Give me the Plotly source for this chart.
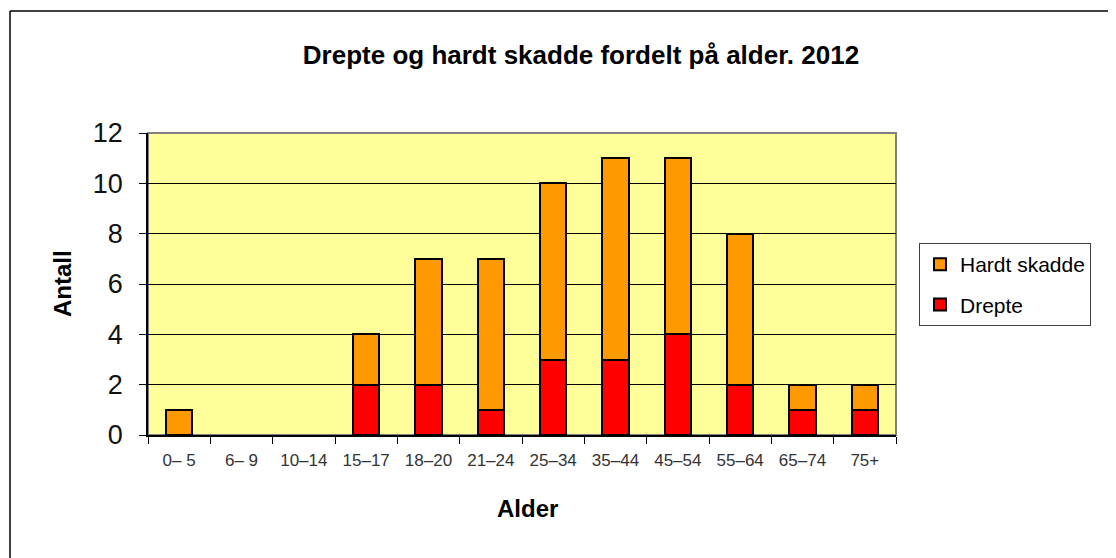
import plotly.graph_objects as go

categories = ["0– 5", "6– 9", "10–14", "15–17", "18–20", "21–24", "25–34", "35–44", "45–54", "55–64", "65–74", "75+"]
drepte = [0, 0, 0, 2, 2, 1, 3, 3, 4, 2, 1, 1]
hardt_skadde = [1, 0, 0, 2, 5, 6, 7, 8, 7, 6, 1, 1]
y_ticks = [0, 2, 4, 6, 8, 10, 12]

OFF = 8  # page body margin
W, H = 1116 - OFF, 558 - OFF
# plot area in page pixels
PL, PR, PT, PB = 148, 896, 133, 435
L, R, T, B = PL - OFF, PR - OFF, PT - OFF, PB - OFF

def px(x):
    return (x - PL) / (PR - PL)

def py(y):
    return (PB - y) / (PB - PT)

def nz(vals):
    return [v if v else None for v in vals]

fig = go.Figure()
fig.add_trace(go.Bar(x=categories, y=nz(drepte), name="Drepte", legendgroup="d",
                     legendrank=2,
                     marker=dict(color="#FF0000", line=dict(color="black", width=2))))
fig.add_trace(go.Bar(x=categories, y=nz(hardt_skadde), name="Hardt skadde", legendgroup="h",
                     legendrank=1,
                     marker=dict(color="#FF9900", line=dict(color="black", width=2))))

fig.update_layout(
    width=W, height=H,
    margin=dict(l=L, r=W - R, t=T, b=H - B, pad=0),
    barmode="stack", bargap=0.58,
    paper_bgcolor="white", plot_bgcolor="#FFFF99",
    font=dict(family="Arial, Liberation Sans, sans-serif", color="black"),
    showlegend=True,
    legend=dict(x=px(919), xanchor="left", y=py(243), yanchor="top",
                traceorder="grouped", bordercolor="#404040", borderwidth=1,
                bgcolor="white", font=dict(size=21), tracegroupgap=10,
                itemwidth=30),
    title=dict(text="<b>Drepte og hardt skadde fordelt på alder. 2012</b>",
               x=px(581), xref="paper", xanchor="center",
               y=1 - (55 - OFF) / H, yref="container", yanchor="middle",
               font=dict(size=26)),
)
fig.update_xaxes(showline=True, linecolor="black", linewidth=1.5,
                 ticks="outside", tickson="boundaries", ticklen=7, tickcolor="black",
                 ticklabelstandoff=9,
                 tickfont=dict(size=17, color="#333"), showgrid=False)
fig.update_yaxes(range=[0, 12], tickvals=y_ticks, showline=True, linecolor="black",
                 linewidth=1.5, ticks="outside", ticklen=7, tickcolor="black",
                 ticklabelstandoff=11,
                 tickfont=dict(size=27, color="#111"), showgrid=True, gridcolor="black",
                 gridwidth=1, zeroline=False)

# gray plot frame (top/right)
fig.add_shape(type="rect", xref="paper", yref="paper", x0=0, x1=1, y0=0, y1=1,
              line=dict(color="#808080", width=2), layer="below")
# outer chart frame
fig.add_shape(type="line", xref="paper", yref="paper", x0=px(10), x1=px(1130),
              y0=py(11), y1=py(11), line=dict(color="black", width=1.5))
fig.add_shape(type="line", xref="paper", yref="paper", x0=px(10), x1=px(10),
              y0=py(11), y1=py(570), line=dict(color="black", width=1.5))

fig.add_annotation(text="<b>Antall</b>", xref="paper", yref="paper",
                   x=px(62), y=py(284), textangle=-90, showarrow=False,
                   font=dict(size=24), xanchor="center", yanchor="middle")
fig.add_annotation(text="<b>Alder</b>", xref="paper", yref="paper",
                   x=px(527), y=py(508), showarrow=False,
                   font=dict(size=24), xanchor="center", yanchor="middle")

fig.write_html("out.html")
